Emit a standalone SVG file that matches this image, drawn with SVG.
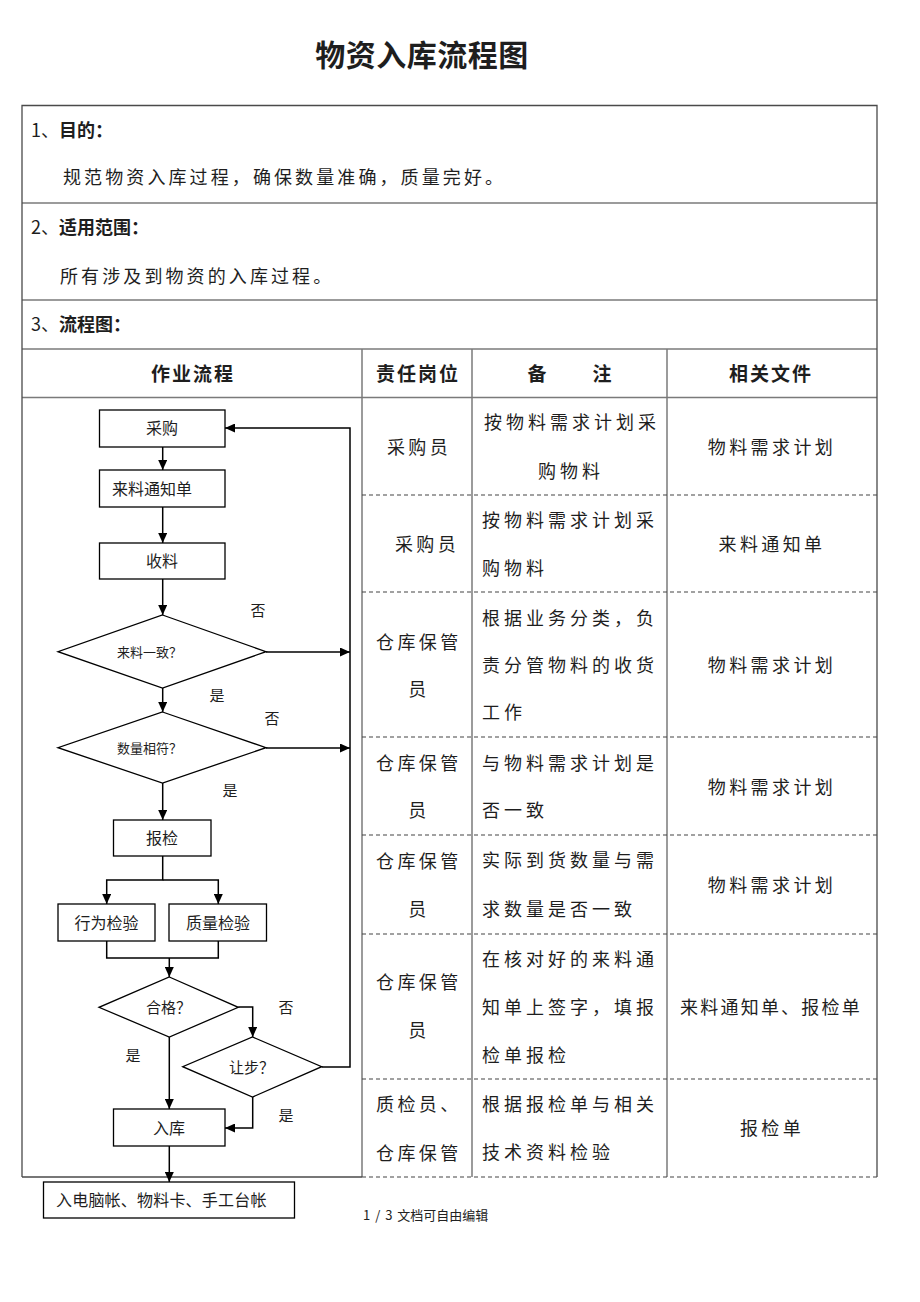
<svg xmlns="http://www.w3.org/2000/svg" width="920" height="1302" viewBox="0 0 920 1302">
<defs>
<style>
text{font-family:"Noto Sans CJK SC","Noto Sans",sans-serif;fill:#1e1e1e;}
.title{font-size:30px;font-weight:bold;letter-spacing:0.5px;}
.sec{font-size:18px;font-weight:bold;}
.num{font-weight:normal;}
.para{font-size:18px;letter-spacing:3.1px;}
.hd{font-size:19px;font-weight:bold;letter-spacing:2px;}
.cell{font-size:18px;letter-spacing:4px;}
.cellc{font-size:18px;letter-spacing:3.4px;}
.fc{font-size:16px;}
.fs{font-size:13px;}
.fm{font-size:15px;}
.lbl{font-size:15px;}
.foot{font-size:13px;fill:#222;}
.grid{stroke:#7a7a7a;stroke-width:1.5;fill:none;}
.outer{stroke:#4a4a4a;stroke-width:1.3;fill:none;}
.dash{stroke:#444;stroke-width:1.2;stroke-dasharray:4 3;fill:none;}
.box{fill:#fff;stroke:#000;stroke-width:1.3;}
.conn{fill:none;stroke:#000;stroke-width:1.5;}
</style>
<marker id="arr" markerUnits="userSpaceOnUse" markerWidth="10" markerHeight="9" refX="10" refY="4.5" orient="auto">
<path d="M0,0 L10,4.5 L0,9 z" fill="#000"/>
</marker>
</defs>
<rect width="920" height="1302" fill="#fff"/>

<g id="title"><text class="title" x="422" y="66" text-anchor="middle">物资入库流程图</text></g>

<g id="table">
<line class="grid" x1="22" y1="203" x2="877" y2="203"/>
<line class="grid" x1="22" y1="300" x2="877" y2="300"/>
<line class="grid" x1="22" y1="349" x2="877" y2="349"/>
<line class="grid" x1="22" y1="397.5" x2="877" y2="397.5"/>
<line class="grid" x1="362" y1="349" x2="362" y2="1177"/>
<line class="grid" x1="472" y1="349" x2="472" y2="1177"/>
<line class="grid" x1="667" y1="349" x2="667" y2="1177"/>
<line class="dash" x1="362" y1="495" x2="877" y2="495"/>
<line class="dash" x1="362" y1="592" x2="877" y2="592"/>
<line class="dash" x1="362" y1="737" x2="877" y2="737"/>
<line class="dash" x1="362" y1="835" x2="877" y2="835"/>
<line class="dash" x1="362" y1="934" x2="877" y2="934"/>
<line class="dash" x1="362" y1="1079" x2="877" y2="1079"/>
<line class="dash" x1="362" y1="1177" x2="877" y2="1177"/>
<line class="outer" x1="22" y1="1177" x2="362" y2="1177"/>
<path class="outer" d="M22,1177 V105.5 H877 V1177"/>
</g>

<g id="sections">
<text class="sec" x="31" y="137"><tspan class="num">1、</tspan>目的：</text>
<text class="para" x="63" y="184">规范物资入库过程，确保数量准确，质量完好。</text>
<text class="sec" x="31" y="234"><tspan class="num">2、</tspan>适用范围：</text>
<text class="para" x="60" y="283">所有涉及到物资的入库过程。</text>
<text class="sec" x="31" y="331"><tspan class="num">3、</tspan>流程图：</text>
</g>

<g id="header">
<text class="hd" x="193" y="380.5" text-anchor="middle">作业流程</text>
<text class="hd" x="418" y="380.5" text-anchor="middle">责任岗位</text>
<text class="hd" text-anchor="middle" y="380.5"><tspan x="538">备</tspan><tspan x="603">注</tspan></text>
<text class="hd" x="771" y="380.5" text-anchor="middle">相关文件</text>
</g>

<g id="row1">
<text class="cellc" x="419" y="453.5" text-anchor="middle">采购员</text>
<text class="cell" x="484" y="428.5">按物料需求计划采</text>
<text class="cell" x="571" y="477.5" text-anchor="middle">购物料</text>
<text class="cellc" x="772" y="453.5" text-anchor="middle">物料需求计划</text>
</g>
<g id="row2">
<text class="cellc" x="427" y="551" text-anchor="middle">采购员</text>
<text class="cell" x="482" y="527">按物料需求计划采</text>
<text class="cell" x="482" y="575">购物料</text>
<text class="cellc" x="772" y="551" text-anchor="middle">来料通知单</text>
</g>
<g id="row3">
<text class="cellc" x="376" y="648.5">仓库保管</text>
<text class="cellc" x="419" y="696" text-anchor="middle">员</text>
<text class="cell" x="482" y="625">根据业务分类，负</text>
<text class="cell" x="482" y="672">责分管物料的收货</text>
<text class="cell" x="482" y="718.5">工作</text>
<text class="cellc" x="772" y="672" text-anchor="middle">物料需求计划</text>
</g>
<g id="row4">
<text class="cellc" x="376" y="770">仓库保管</text>
<text class="cellc" x="419" y="817" text-anchor="middle">员</text>
<text class="cell" x="482" y="770">与物料需求计划是</text>
<text class="cell" x="482" y="817">否一致</text>
<text class="cellc" x="772" y="793.5" text-anchor="middle">物料需求计划</text>
</g>
<g id="row5">
<text class="cellc" x="376" y="867.5">仓库保管</text>
<text class="cellc" x="419" y="916" text-anchor="middle">员</text>
<text class="cell" x="482" y="867">实际到货数量与需</text>
<text class="cell" x="482" y="916">求数量是否一致</text>
<text class="cellc" x="772" y="892" text-anchor="middle">物料需求计划</text>
</g>
<g id="row6">
<text class="cellc" x="376" y="989">仓库保管</text>
<text class="cellc" x="419" y="1037" text-anchor="middle">员</text>
<text class="cell" x="482" y="966">在核对好的来料通</text>
<text class="cell" x="482" y="1014">知单上签字，填报</text>
<text class="cell" x="482" y="1062">检单报检</text>
<text class="cell" x="771" y="1014" text-anchor="middle" style="letter-spacing:2.2px">来料通知单、报检单</text>
</g>
<g id="row7">
<text class="cellc" x="376" y="1111">质检员、</text>
<text class="cellc" x="376" y="1159.5">仓库保管</text>
<text class="cell" x="482" y="1111">根据报检单与相关</text>
<text class="cell" x="482" y="1159">技术资料检验</text>
<text class="cellc" x="772" y="1135" text-anchor="middle">报检单</text>
</g>

<g id="connectors">
<path class="conn" marker-end="url(#arr)" d="M162.7,447 V470"/>
<path class="conn" marker-end="url(#arr)" d="M162.7,507 V543"/>
<path class="conn" marker-end="url(#arr)" d="M162.7,579 V615"/>
<path class="conn" marker-end="url(#arr)" d="M266,652 H350"/>
<path class="conn" marker-end="url(#arr)" d="M162.7,688 V712"/>
<path class="conn" marker-end="url(#arr)" d="M266,748 H350"/>
<path class="conn" marker-end="url(#arr)" d="M162.7,783 V820"/>
<path class="conn" marker-end="url(#arr)" d="M162.7,856 V880 H106.7 V904"/>
<path class="conn" marker-end="url(#arr)" d="M162.7,880 H218.3 V904"/>
<path class="conn" d="M106.7,941 V958 H218.3 V941"/>
<path class="conn" marker-end="url(#arr)" d="M169.3,958 V977"/>
<path class="conn" marker-end="url(#arr)" d="M238.3,1007 H252.7 V1037"/>
<path class="conn" marker-end="url(#arr)" d="M169.3,1037 V1109"/>
<path class="conn" marker-end="url(#arr)" d="M252.7,1097 V1128 H225"/>
<path class="conn" marker-end="url(#arr)" d="M321.7,1067 H350 V428 H225"/>
<path class="conn" marker-end="url(#arr)" d="M169.3,1146 V1182"/>
<text class="lbl" x="258" y="615.5" text-anchor="middle">否</text>
<text class="lbl" x="217" y="700.5" text-anchor="middle">是</text>
<text class="lbl" x="272" y="723.5" text-anchor="middle">否</text>
<text class="lbl" x="230" y="795.5" text-anchor="middle">是</text>
<text class="lbl" x="286" y="1012.5" text-anchor="middle">否</text>
<text class="lbl" x="133" y="1060.5" text-anchor="middle">是</text>
<text class="lbl" x="286" y="1120.5" text-anchor="middle">是</text>
</g>

<g id="n-caigou"><rect class="box" x="99.5" y="410" width="125.5" height="37"/><text class="fc" x="162" y="434" text-anchor="middle">采购</text></g>
<g id="n-tongzhi"><rect class="box" x="99.5" y="470" width="125.5" height="37"/><text class="fc" x="112" y="494.5">来料通知单</text></g>
<g id="n-shouliao"><rect class="box" x="99.5" y="543" width="125.5" height="36"/><text class="fc" x="162" y="567" text-anchor="middle">收料</text></g>
<g id="n-yizhi"><polygon class="box" points="162.5,615 266,651.7 162.5,688 58,651.7"/><text class="fs" x="117" y="656.5">来料一致？</text></g>
<g id="n-xiangfu"><polygon class="box" points="162.5,712 266,747.7 162.5,783 58,747.7"/><text class="fs" x="117" y="752.5">数量相符？</text></g>
<g id="n-baojian"><rect class="box" x="113.5" y="820" width="97.5" height="36"/><text class="fc" x="162" y="844" text-anchor="middle">报检</text></g>
<g id="n-xingwei"><rect class="box" x="58" y="904" width="97" height="37"/><text class="fc" x="106.5" y="928.5" text-anchor="middle">行为检验</text></g>
<g id="n-zhiliang"><rect class="box" x="169" y="904" width="97.5" height="37"/><text class="fc" x="218" y="928.5" text-anchor="middle">质量检验</text></g>
<g id="n-hege"><polygon class="box" points="169.3,977 238.3,1007.3 169.3,1037 99,1007.3"/><text class="fm" x="146" y="1013">合格？</text></g>
<g id="n-rangbu"><polygon class="box" points="252.5,1037 321.7,1066.7 252.5,1097 182.7,1066.7"/><text class="fm" x="229" y="1072.5">让步？</text></g>
<g id="n-ruku"><rect class="box" x="113.5" y="1109" width="111.5" height="37"/><text class="fc" x="169" y="1133.5" text-anchor="middle">入库</text></g>
<g id="n-diannao"><rect class="box" x="43.5" y="1182" width="251" height="36"/><text class="fc" x="56" y="1206" style="letter-spacing:0.2px">入电脑帐、物料卡、手工台帐</text></g>

<g id="footer"><text class="foot" x="363" y="1220" style="word-spacing:2px">1 / 3 文档可自由编辑</text></g>
</svg>
